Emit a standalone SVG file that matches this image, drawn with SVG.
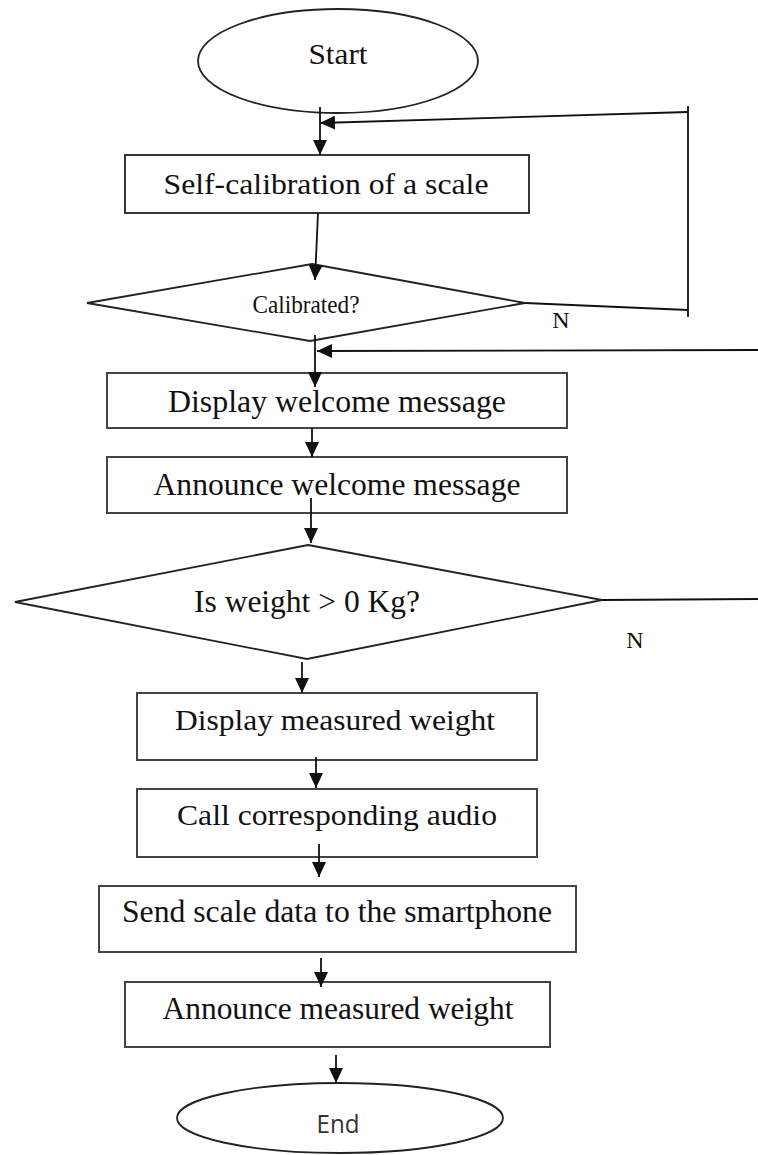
<svg xmlns="http://www.w3.org/2000/svg" width="758" height="1155" viewBox="0 0 758 1155">
<style>
.shape{fill:#fff;stroke:#222;stroke-width:1.8}
.box2{fill:#fff;stroke:#444;stroke-width:2}
.lbl{font-family:"Liberation Serif","Times New Roman",serif;fill:#111;text-anchor:middle}
.conn{stroke:#111;stroke-width:1.8;fill:none}
</style>
<defs>
<marker id="ah" markerUnits="userSpaceOnUse" markerWidth="15" markerHeight="14" refX="15" refY="7" orient="auto">
<path d="M0,0 L15,7 L0,14 z" fill="#111"/>
</marker>
</defs>
<rect width="758" height="1155" fill="#fff"/>
<g id="start">
<ellipse class="shape" cx="338" cy="61" rx="140" ry="52"/>
<text class="lbl" x="338" y="64" font-size="30" textLength="59" lengthAdjust="spacingAndGlyphs">Start</text>
</g>
<g id="selfcal">
<rect class="shape" x="125" y="155" width="404" height="58"/>
<text class="lbl" x="326" y="194" font-size="30" textLength="325" lengthAdjust="spacingAndGlyphs">Self-calibration of a scale</text>
</g>
<g id="calibrated">
<polygon class="shape" points="312,264 525,303 310,341 87,303"/>
<text class="lbl" x="306" y="313" font-size="26" textLength="107" lengthAdjust="spacingAndGlyphs">Calibrated?</text>
</g>
<g id="displaywelcome">
<rect class="box2" x="107" y="373" width="460" height="55"/>
<text class="lbl" x="337" y="412" font-size="31" textLength="338" lengthAdjust="spacingAndGlyphs">Display welcome message</text>
</g>
<g id="announcewelcome">
<rect class="box2" x="107" y="457" width="460" height="56"/>
<text class="lbl" x="337" y="495" font-size="31" textLength="367" lengthAdjust="spacingAndGlyphs">Announce welcome message</text>
</g>
<g id="weight">
<polygon class="shape" points="308,545 602,600 307,659 15,602"/>
<text class="lbl" x="307" y="612" font-size="31" textLength="226" lengthAdjust="spacingAndGlyphs">Is weight &gt; 0 Kg?</text>
</g>
<g id="displayweight">
<rect class="box2" x="137" y="693" width="400" height="67"/>
<text class="lbl" x="335" y="730" font-size="30" textLength="320" lengthAdjust="spacingAndGlyphs">Display measured weight</text>
</g>
<g id="callaudio">
<rect class="box2" x="137" y="789" width="400" height="68"/>
<text class="lbl" x="337" y="825" font-size="30" textLength="320" lengthAdjust="spacingAndGlyphs">Call corresponding audio</text>
</g>
<g id="senddata">
<rect class="box2" x="99" y="886" width="477" height="66"/>
<text class="lbl" x="337" y="922" font-size="31" textLength="430" lengthAdjust="spacingAndGlyphs">Send scale data to the smartphone</text>
</g>
<g id="announceweight">
<rect class="box2" x="125" y="982" width="425" height="65"/>
<text class="lbl" x="338" y="1019" font-size="31" textLength="351" lengthAdjust="spacingAndGlyphs">Announce measured weight</text>
</g>
<g id="end">
<ellipse class="shape" cx="340" cy="1118" rx="163" ry="35"/>
<text x="338" y="1133" font-family="'Open Sans','Liberation Sans',sans-serif" font-size="25" fill="#333" text-anchor="middle" textLength="43" lengthAdjust="spacingAndGlyphs">End</text>
</g>
<g id="connectors">
<line class="conn" x1="320" y1="107" x2="320" y2="155" marker-end="url(#ah)"/>
<line class="conn" x1="525" y1="303" x2="688" y2="310"/>
<line class="conn" x1="688" y1="106" x2="688" y2="317"/>
<line class="conn" x1="688" y1="112" x2="320" y2="123" marker-end="url(#ah)"/>
<line class="conn" x1="318" y1="213" x2="315" y2="280" marker-end="url(#ah)"/>
<line class="conn" x1="315" y1="335" x2="315" y2="387" marker-end="url(#ah)"/>
<line class="conn" x1="758" y1="350" x2="317" y2="351" marker-end="url(#ah)"/>
<line class="conn" x1="602" y1="600" x2="758" y2="599"/>
<line class="conn" x1="312" y1="428" x2="312" y2="457" marker-end="url(#ah)"/>
<line class="conn" x1="311" y1="498" x2="311" y2="543" marker-end="url(#ah)"/>
<line class="conn" x1="302" y1="662" x2="302" y2="693" marker-end="url(#ah)"/>
<line class="conn" x1="316" y1="757" x2="316" y2="788" marker-end="url(#ah)"/>
<line class="conn" x1="319" y1="844" x2="319" y2="877" marker-end="url(#ah)"/>
<line class="conn" x1="321" y1="958" x2="321" y2="987" marker-end="url(#ah)"/>
<line class="conn" x1="336" y1="1055" x2="336" y2="1083" marker-end="url(#ah)"/>
<text class="lbl" x="561" y="328" font-size="24">N</text>
<text class="lbl" x="635" y="648" font-size="24">N</text>
</g>
</svg>
